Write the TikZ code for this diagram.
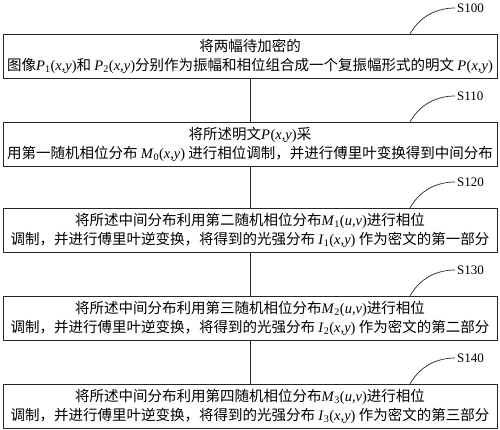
\documentclass[tikz,border=0pt]{standalone}
\usepackage{amsmath}
\usepackage{fontspec}
\setmainfont{Liberation Serif}
\newfontfamily\cjk{Noto Sans CJK SC}
\newcommand{\fx}[3]{{\rmfamily\textit{#1}\textsubscript{#2}(\textit{#3})}}
\usetikzlibrary{positioning}

\begin{document}
\begin{tikzpicture}
[x=1pt,y=-1pt,
box/.style={draw=black!85,line width=0.8pt,minimum width=494pt,minimum height=44pt,inner sep=0pt,align=center,font=\cjk\fontsize{14.5}{19}\selectfont},
lbl/.style={anchor=west,inner sep=2pt,font=\fontsize{13}{15}\selectfont},
ln/.style={draw=black!85,line width=0.7pt}]
\useasboundingbox (0,0) rectangle (500,429);
\node[box] (b1) at (250,56) {将两幅待加密的\\图像\fx{P}{1}{x,y}和 \fx{P}{2}{x,y}分别作为振幅和相位组合成一个复振幅形式的明文 \fx{P}{}{x,y}};
\node[box] (b2) at (250,144) {将所述明文\fx{P}{}{x,y}采\\用第一随机相位分布 \fx{M}{0}{x,y} 进行相位调制，并进行傅里叶变换得到中间分布};
\node[box] (b3) at (250,230) {将所述中间分布利用第二随机相位分布\fx{M}{1}{u,v}进行相位\\调制，并进行傅里叶逆变换，将得到的光强分布 \fx{I}{1}{x,y} 作为密文的第一部分};
\node[box] (b4) at (250,318) {将所述中间分布利用第三随机相位分布\fx{M}{2}{u,v}进行相位\\调制，并进行傅里叶逆变换，将得到的光强分布 \fx{I}{2}{x,y} 作为密文的第二部分};
\node[box] (b5) at (250,406) {将所述中间分布利用第四随机相位分布\fx{M}{3}{u,v}进行相位\\调制，并进行傅里叶逆变换，将得到的光强分布 \fx{I}{3}{x,y} 作为密文的第三部分};
\draw[ln] (b1) -- (b2);
\draw[ln] (b2) -- (b3);
\draw[ln] (b3) -- (b4);
\draw[ln] (b4) -- (b5);
% step labels
\node[lbl] (s1) at (455,8) {S100};
\node[lbl] (s2) at (455,96) {S110};
\node[lbl] (s3) at (455,182) {S120};
\node[lbl] (s4) at (455,270) {S130};
\node[lbl] (s5) at (455,358) {S140};
\coordinate (c1) at (410,34);
\coordinate (c2) at (410,122);
\coordinate (c3) at (410,208);
\coordinate (c4) at (410,296);
\coordinate (c5) at (410,384);
\draw[ln] (c1) .. controls +(10,-18) and +(-18,0) .. (s1.west);
\draw[ln] (c2) .. controls +(10,-18) and +(-18,0) .. (s2.west);
\draw[ln] (c3) .. controls +(10,-18) and +(-18,0) .. (s3.west);
\draw[ln] (c4) .. controls +(10,-18) and +(-18,0) .. (s4.west);
\draw[ln] (c5) .. controls +(10,-18) and +(-18,0) .. (s5.west);
\end{tikzpicture}
\end{document}
